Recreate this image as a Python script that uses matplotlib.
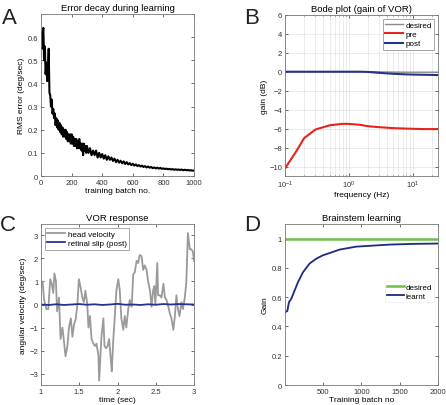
import numpy as np
import matplotlib.pyplot as plt

plt.rcParams['font.family'] = ['Liberation Sans', 'DejaVu Sans']

# -----------------------------
# data
# -----------------------------
# A: RMS error vs training batch
err_batch = np.concatenate([np.arange(0, 301, 5), np.arange(310, 1001, 10)])
err_rms = [0.62, 0.55, 0.61, 0.64, 0.50, 0.56, 0.44, 0.49, 0.41, 0.45,
           0.55, 0.36, 0.35, 0.30, 0.33, 0.27, 0.29, 0.25, 0.27, 0.22,
           0.25, 0.21, 0.24, 0.20, 0.23, 0.19, 0.22, 0.18, 0.21, 0.17,
           0.20, 0.17, 0.20, 0.16, 0.19, 0.15, 0.18, 0.15, 0.18, 0.14,
           0.18, 0.14, 0.17, 0.13, 0.16, 0.13, 0.16, 0.12, 0.15, 0.12,
           0.16, 0.12, 0.14, 0.11, 0.14, 0.09, 0.14, 0.11, 0.13, 0.10,
           0.13,
           0.10, 0.12, 0.09, 0.11, 0.09, 0.11, 0.08, 0.10, 0.08, 0.095,
           0.075, 0.09, 0.07, 0.085, 0.07, 0.08, 0.065, 0.075, 0.06, 0.07,
           0.058, 0.066, 0.055, 0.063, 0.052, 0.06, 0.05, 0.056, 0.047, 0.053,
           0.045, 0.05, 0.043, 0.047, 0.041, 0.045, 0.039, 0.043, 0.037, 0.041,
           0.036, 0.039, 0.034, 0.037, 0.033, 0.036, 0.032, 0.035, 0.031, 0.033,
           0.030, 0.032, 0.029, 0.031, 0.028, 0.030, 0.027, 0.029, 0.027, 0.028,
           0.026, 0.028, 0.025, 0.027, 0.025, 0.026, 0.024, 0.025, 0.023, 0.024]

# B: Bode plot gain (dB)
freq = [0.1, 0.15, 0.2, 0.3, 0.5, 0.8, 1.0, 1.5, 2.0, 3.0, 5.0, 8.0, 10.0, 15.0, 25.0]
gain_desired = [0, 0, 0, 0, 0, 0, 0, 0, 0, -0.02, -0.04, -0.05, -0.05, -0.05, -0.05]
gain_pre = [-10.2, -8.4, -7.0, -6.1, -5.65, -5.5, -5.5, -5.6, -5.75, -5.85, -5.95, -6.0, -6.02, -6.05, -6.05]
gain_post = [0, 0, 0, 0, 0, 0, 0, 0, -0.02, -0.12, -0.22, -0.28, -0.3, -0.32, -0.35]

# C: VOR response
t_sec = [1.0, 1.02, 1.04, 1.07, 1.095, 1.12, 1.14, 1.16, 1.175, 1.195,
         1.21, 1.235, 1.255, 1.28, 1.30, 1.32, 1.345, 1.365, 1.39, 1.41,
         1.43, 1.455, 1.475, 1.495, 1.52, 1.54, 1.56, 1.58, 1.605, 1.62,
         1.64, 1.66, 1.685, 1.705, 1.725, 1.75, 1.76, 1.78, 1.79, 1.815,
         1.83, 1.85, 1.87, 1.89, 1.91, 1.925, 1.945, 1.965, 1.985, 2.01,
         2.03, 2.05, 2.075, 2.095, 2.115, 2.14, 2.16, 2.185, 2.205, 2.225,
         2.25, 2.27, 2.29, 2.315, 2.335, 2.355, 2.38, 2.40, 2.425, 2.445,
         2.465, 2.48, 2.495, 2.52, 2.53, 2.555, 2.575, 2.60, 2.62, 2.64,
         2.665, 2.685, 2.705, 2.73, 2.75, 2.77, 2.79, 2.81, 2.835, 2.855,
         2.88, 2.90, 2.92, 2.945, 2.965, 2.985, 3.0]
head_vel = [1.0, 1.0, 0.2, -0.2, -0.2, 1.1, 0.9, 0.5, 1.35, 1.0,
            -0.3, 0.3, -1.5, -1.0, -1.6, -2.25, -1.8, -1.0, -0.6, -1.4,
            -0.9, -0.6, 0.0, 1.1, 0.7, 0.3, 0.1, 0.6, 0.0, -1.0,
            -0.5, -1.5, -1.7, -1.8, -1.7, -2.2, -3.3, -2.0, -1.4, -0.6,
            -1.8, -1.9, -1.8, -1.5, -2.3, -2.9, -1.5, -0.5, 0.6, 1.1,
            0.6, -0.6, -1.1, -0.5, -1.0, -0.2, 0.2, -0.1, 1.3, 1.4,
            1.9, 1.8, 2.15, 2.1, 1.5, 1.7, 1.5, 1.0, 0.6, -0.1,
            0.6, 0.8, 0.0, 1.8, 0.4, 0.4, 0.3, 0.9, 0.3, 0.2,
            -0.1, -0.4, -0.6, -1.1, -0.5, 0.4, -0.2, -0.5, 0.1, -0.2,
            0.3, 1.0, 3.1, 2.4, 2.4, 2.3, 1.9]
slip_t = [1.0, 1.1, 1.2, 1.3, 1.4, 1.5, 1.6, 1.7, 1.8, 1.9, 2.0,
          2.1, 2.2, 2.3, 2.4, 2.5, 2.6, 2.7, 2.8, 2.9, 3.0]
slip_post = [0.0, -0.02, 0.01, -0.02, 0.0, 0.02, -0.01, 0.01, -0.02, 0.0, 0.03,
             -0.01, 0.0, -0.02, 0.01, -0.01, 0.02, 0.0, 0.02, 0.01, 0.0]

# D: brainstem learning
batch_d = [0, 30, 52, 83, 126, 170, 235, 322, 410, 497, 715, 932, 1368, 1700, 2000]
gain_learnt = [0.498, 0.505, 0.566, 0.59, 0.646, 0.703, 0.77, 0.83, 0.863, 0.886,
               0.925, 0.945, 0.959, 0.964, 0.966]
gain_target = [1.0, 1.0]
target_batch = [0, 2000]

# -----------------------------
# figure
# -----------------------------
fig = plt.figure(figsize=(4.46, 4.06), dpi=100)
spine_col = '#777777'
tick_fs = 5.5
lab_fs = 6.0
title_fs = 6.8


def style(ax):
    for s in ax.spines.values():
        s.set_color(spine_col)
        s.set_linewidth(0.6)
    ax.tick_params(direction='in', length=2, width=0.5, labelsize=tick_fs,
                   colors='#333333', top=True, right=True, pad=2)
    ax.tick_params(which='minor', direction='in', length=1, width=0.4, top=True, right=True)


# A
axA = fig.add_axes([0.092, 0.564, 0.343, 0.399])
axA.plot(err_batch, err_rms, color='black', lw=1.5)
axA.set_xlim(0, 1000)
axA.set_ylim(0, 0.7)
axA.set_xticks(np.arange(0, 1001, 200))
axA.set_yticks([0, 0.1, 0.2, 0.3, 0.4, 0.5, 0.6])
axA.set_yticklabels(['0', '0.1', '0.2', '0.3', '0.4', '0.5', '0.6'])
axA.set_title('Error decay during learning', fontsize=title_fs, pad=3)
axA.set_xlabel('training batch no.', fontsize=lab_fs, labelpad=1)
axA.set_ylabel('RMS error (deg/sec)', fontsize=lab_fs, labelpad=2)
style(axA)

# B
axB = fig.add_axes([0.639, 0.564, 0.343, 0.397])
axB.semilogx(freq, gain_desired, color='#888888', lw=1.0, label='desired')
axB.semilogx(freq, gain_pre, color='#e8231c', lw=1.5, label='pre')
axB.semilogx(freq, gain_post, color='#25338f', lw=1.5, label='post')
axB.set_xlim(0.1, 25)
axB.set_ylim(-11, 6)
axB.set_yticks(np.arange(-10, 7, 2))
axB.grid(True, which='both', color='#dddddd', lw=0.4, ls='-')
axB.set_title('Bode plot (gain of VOR)', fontsize=title_fs, pad=3)
axB.set_xlabel('frequency (Hz)', fontsize=lab_fs, labelpad=1)
axB.set_ylabel('gain (dB)', fontsize=lab_fs, labelpad=1)
style(axB)
legB = axB.legend(loc='upper right', fontsize=5.8, handlelength=2.2, borderpad=0.3,
                  labelspacing=0.2, fancybox=False, framealpha=1, handletextpad=0.3)
legB.get_frame().set_edgecolor('#999999')
legB.get_frame().set_linewidth(0.6)

# C
axC = fig.add_axes([0.092, 0.049, 0.343, 0.397])
axC.plot(t_sec, head_vel, color='#9a9a9a', lw=1.3, label='head velocity')
axC.plot(slip_t, slip_post, color='#25338f', lw=1.3, label='retinal slip (post)')
axC.set_xlim(1, 3)
axC.set_ylim(-3.5, 3.5)
axC.set_xticks([1, 1.5, 2, 2.5, 3])
axC.set_xticklabels(['1', '1.5', '2', '2.5', '3'])
axC.set_yticks(np.arange(-3, 4, 1))
axC.set_title('VOR response', fontsize=title_fs, pad=3)
axC.set_xlabel('time (sec)', fontsize=lab_fs, labelpad=0.5)
axC.set_ylabel('angular velocity (deg/sec)', fontsize=lab_fs, labelpad=2)
style(axC)
legC = axC.legend(loc='upper left', fontsize=5.8, handlelength=2.2, borderpad=0.3,
                  labelspacing=0.2, fancybox=False, framealpha=1, handletextpad=0.3)
legC.get_frame().set_edgecolor('#999999')
legC.get_frame().set_linewidth(0.6)

# D
axD = fig.add_axes([0.639, 0.049, 0.343, 0.397])
axD.plot(target_batch, gain_target, color='#6cc04a', lw=1.8, label='desired')
axD.plot(batch_d, gain_learnt, color='#1c2a80', lw=1.3, label='learnt')
axD.set_xlim(0, 2000)
axD.set_ylim(0, 1.1)
axD.set_xticks([500, 1000, 1500, 2000])
axD.set_yticks([0, 0.2, 0.4, 0.6, 0.8, 1])
axD.set_yticklabels(['0', '0.2', '0.4', '0.6', '0.8', '1'])
axD.set_title('Brainstem learning', fontsize=title_fs, pad=3)
axD.set_xlabel('Training batch no', fontsize=lab_fs, labelpad=0.5)
axD.set_ylabel('Gain', fontsize=lab_fs, labelpad=2)
style(axD)
legD = axD.legend(loc='center right', bbox_to_anchor=(1.0, 0.58), fontsize=5.8,
                  handlelength=2.0, borderpad=0.3, labelspacing=0.2, fancybox=False,
                  framealpha=1, handletextpad=0.2)
legD.get_frame().set_edgecolor('#eeeeee')
legD.get_frame().set_linewidth(0.5)

# panel letters
for lx, ly, letter in [(0.005, 0.955, 'A'), (0.548, 0.955, 'B'),
                       (0.0, 0.445, 'C'), (0.548, 0.445, 'D')]:
    fig.text(lx, ly, letter, fontsize=16, color='#222222', va='center', ha='left')

fig.savefig('out.png', dpi=100)
